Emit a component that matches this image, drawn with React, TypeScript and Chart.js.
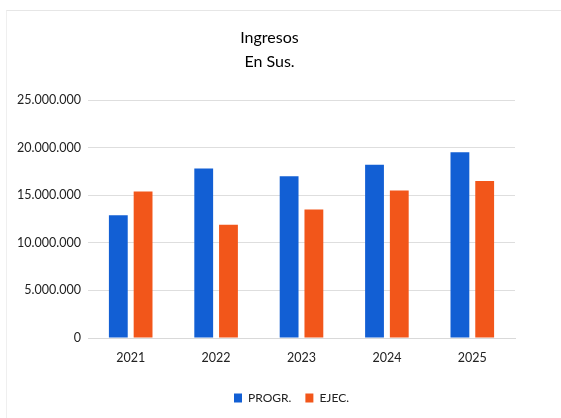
import React, { useEffect, useRef } from "react";
import { Chart, registerables } from "chart.js";

Chart.register(...registerables);

const categories = ["2021", "2022", "2023", "2024", "2025"];
const progr = [12900000, 17800000, 17000000, 18200000, 19500000];
const ejec = [15400000, 11900000, 13500000, 15500000, 16500000];
const titleLines = ["Ingresos", "En Sus."];
const seriesNames = ["PROGR.", "EJEC."];

const FONT = "Lato, 'Open Sans', sans-serif";

function fmt(v: number) {
  return String(Math.round(v)).replace(/\B(?=(\d{3})+(?!\d))/g, ".");
}

const shiftLegend = {
  id: "shiftLegend",
  afterLayout(chart: any) {
    const lg = chart.legend;
    if (lg) {
      lg.left += 22;
      lg.right += 22;
    }
  },
};

export default function App() {
  const ref = useRef<HTMLCanvasElement | null>(null);
  useEffect(() => {
    if (!ref.current) return;
    const chart = new Chart(ref.current, {
      type: "bar",
      data: {
        labels: categories,
        datasets: [
          {
            label: seriesNames[0],
            data: progr,
            backgroundColor: "#125fd4",
            categoryPercentage: 0.58,
            barPercentage: 0.76,
          },
          {
            label: seriesNames[1],
            data: ejec,
            backgroundColor: "#f2561a",
            categoryPercentage: 0.58,
            barPercentage: 0.76,
          },
        ],
      },
      plugins: [shiftLegend],
      options: {
        animation: false,
        responsive: false,
        maintainAspectRatio: false,
        layout: { padding: { left: 0, right: 22, top: 0, bottom: 4 } },
        plugins: {
          title: {
            display: true,
            text: titleLines,
            color: "#000",
            font: { family: FONT, size: 16, weight: "normal", lineHeight: 1.5 },
            padding: { top: 26, bottom: 26 },
          },
          legend: {
            position: "bottom",
            labels: {
              color: "#222",
              font: { family: FONT, size: 12 },
              boxWidth: 8,
              boxHeight: 9,
              padding: 14,
            },
          },
          tooltip: { enabled: false },
        },
        scales: {
          x: {
            grid: { display: false, drawTicks: false },
            border: { display: true, color: "#d9d9d9" },
            ticks: { color: "#222", font: { family: FONT, size: 12.5 }, padding: 12.5 },
          },
          y: {
            min: 0,
            max: 25000000,
            afterFit: (s: any) => {
              s.width = 88;
            },
            grid: { color: "#dedede", drawTicks: false },
            border: { display: false },
            ticks: {
              stepSize: 5000000,
              color: "#222",
              font: { family: FONT, size: 12.5 },
              padding: 7,
              callback: (v: any) => fmt(Number(v)),
            },
          },
          yRight: {
            position: "right",
            min: 0,
            max: 25000000,
            afterFit: (s: any) => {
              s.width = 24;
            },
            grid: { display: false, drawTicks: false },
            border: { display: false },
            ticks: { display: false },
          },
        },
      },
    });
    return () => chart.destroy();
  }, []);
  return (
    <div style={{ position: "fixed", left: 0, top: 0, width: 561, height: 418, background: "#fff" }}>
      <div
        style={{
          position: "absolute",
          left: 6,
          top: 10,
          right: 0,
          bottom: 0,
          borderTop: "1px solid #e6e6e6",
          borderLeft: "1px solid #efefef",
        }}
      />
      <canvas
        ref={ref}
        width={561}
        height={418}
        style={{ position: "absolute", left: 0, top: 0, width: 561, height: 418 }}
      />
    </div>
  );
}
